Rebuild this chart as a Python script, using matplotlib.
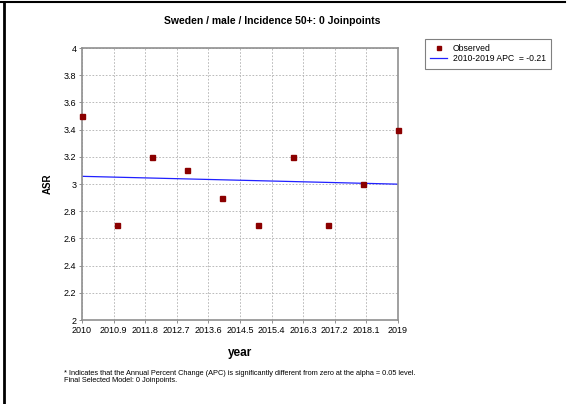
import numpy as np
import matplotlib.pyplot as plt

years = [2010, 2011, 2012, 2013, 2014, 2015, 2016, 2017, 2018, 2019]
asr = [3.5, 2.7, 3.2, 3.1, 2.9, 2.7, 3.2, 2.7, 3.0, 3.4]
apc_label = '2010-2019 APC  = -0.21'
xticks = [2010, 2010.9, 2011.8, 2012.7, 2013.6, 2014.5, 2015.4, 2016.3, 2017.2, 2018.1, 2019]
yticks = [2, 2.2, 2.4, 2.6, 2.8, 3, 3.2, 3.4, 3.6, 3.8, 4]

plt.rcParams['font.family'] = ['Liberation Sans', 'DejaVu Sans']

fig = plt.figure(figsize=(5.75, 4.04), dpi=100)
ax = fig.add_axes([82/575, 84/404, 316/575, 272/404])

# log-linear fit (joinpoint style, 0 joinpoints)
x = np.array(years, dtype=float)
coef = np.polyfit(x - x[0], np.log(asr), 1)
xfit = np.array([x[0], x[-1]])
yfit = np.exp(np.polyval(coef, xfit - x[0]))

ax.plot(years, asr, 's', color='#8b0000', markersize=3.6, label='Observed', clip_on=False, zorder=3)
ax.plot(xfit, yfit, '-', color='#2020ff', linewidth=0.9, label=apc_label, zorder=2)

ax.set_xlim(2010, 2019)
ax.set_ylim(2, 4)
ax.set_xticks(xticks)
ax.set_xticklabels([f'{t:g}' for t in xticks])
ax.set_yticks(yticks)
ax.set_yticklabels([f'{t:g}' for t in yticks])
ax.tick_params(labelsize=6.5, length=2, width=0.6, color='#808080', pad=2)
ax.grid(True, linestyle=(0, (2, 2)), color='#b0b0b0', linewidth=0.6)
for s in ax.spines.values():
    s.set_color('#909090')
    s.set_linewidth(1.2)

ax.set_xlabel('year', fontsize=8.5, fontweight='bold', labelpad=9)
ax.set_ylabel('ASR', fontsize=7, fontweight='bold', labelpad=8)

fig.text(272/575, 1 - 21/404, 'Sweden / male / Incidence 50+: 0 Joinpoints',
         ha='center', va='center', fontsize=7.5, fontweight='bold')

leg = ax.legend(loc='upper left', bbox_to_anchor=(425/575, 1 - 39/404), bbox_transform=fig.transFigure,
                fontsize=6.2, frameon=True, fancybox=False, edgecolor='#606060',
                handlelength=2.0, handletextpad=0.6, borderpad=0.6, labelspacing=0.15,
                markerscale=0.7, borderaxespad=0)
leg.get_frame().set_linewidth(0.8)

fig.text(64/575, 1 - 377/404,
         '* Indicates that the Annual Percent Change (APC) is significantly different from zero at the alpha = 0.05 level.\n'
         'Final Selected Model: 0 Joinpoints.',
         ha='left', va='center', fontsize=5.3, linespacing=1.05)

# window border
fig.add_artist(plt.Line2D([0, 565/575], [1 - 2/404, 1 - 2/404], color='black', linewidth=1.5, transform=fig.transFigure))
fig.add_artist(plt.Line2D([4/575, 4/575], [0, 1 - 2/404], color='black', linewidth=2, transform=fig.transFigure))

fig.savefig('out.png', dpi=100)
